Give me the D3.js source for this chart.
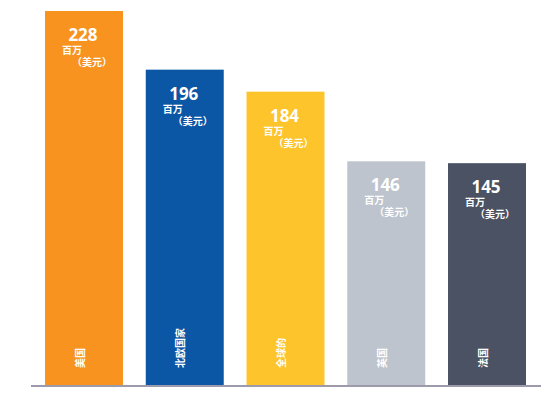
<!DOCTYPE html>
<html lang="zh">
<head>
  <meta charset="UTF-8">
  <title>Bar chart</title>
  <script src="https://d3js.org/d3.v7.min.js"></script>
  <style>
    body { margin: 0; background: #fff; }
    .val { font-family: "Open Sans", "Noto Sans", sans-serif; font-weight: 700; fill: #fff; }
    .cjk { font-family: "Noto Sans CJK SC", sans-serif; font-weight: 700; fill: #fff; }
  </style>
</head>
<body>
<div id="chart"></div>
<script>
  // data
  const categories = ["美国", "北欧国家", "全球的", "英国", "法国"];
  const values = [228, 196, 184, 146, 145];
  const colors = ["#f7931e", "#0b56a5", "#fec42c", "#bdc4cd", "#4a5263"];
  const unitLine1 = "百万";
  const unitLine2 = "（美元）";

  const width = 560, height = 397;
  const baseY = 385;

  const svg = d3.select('#chart')
    .append('svg')
    .attr('width', width)
    .attr('height', height);

  const x = d3.scaleBand()
    .domain(categories)
    .range([45, 526])
    .paddingInner(0.226)
    .paddingOuter(0);

  // bars don't start at zero in the original
  const y = d3.scaleLinear()
    .domain([24, 228])
    .range([baseY, 11]);

  const data = categories.map((c, i) => ({ cat: c, value: values[i], color: colors[i] }));

  const bars = svg.selectAll('g.bar')
    .data(data)
    .enter().append('g')
    .attr('class', 'bar');

  bars.append('rect')
    .attr('x', d => x(d.cat))
    .attr('y', d => y(d.value))
    .attr('width', x.bandwidth())
    .attr('height', d => baseY - y(d.value))
    .attr('fill', d => d.color);

  // value number
  bars.append('text')
    .attr('class', 'val')
    .attr('x', d => x(d.cat) + x.bandwidth() / 2 - 1)
    .attr('y', d => y(d.value) + 30)
    .attr('text-anchor', 'middle')
    .style('font-size', '17px')
    .text(d => d.value);

  bars.append('text')
    .attr('class', 'cjk')
    .attr('x', d => x(d.cat) + 17)
    .attr('y', d => y(d.value) + 43)
    .style('font-size', '10px')
    .text(unitLine1);

  bars.append('text')
    .attr('class', 'cjk')
    .attr('x', d => x(d.cat) + 27)
    .attr('y', d => y(d.value) + 55)
    .style('font-size', '10px')
    .text(unitLine2);

  // rotated category labels
  bars.append('text')
    .attr('class', 'cjk')
    .attr('transform', d => `translate(${x(d.cat) + x.bandwidth() / 2 - 3},${baseY - 17}) rotate(-90)`)
    .attr('dominant-baseline', 'middle')
    .style('font-size', '10px')
    .text(d => d.cat);

  // baseline
  svg.append('line')
    .attr('x1', x.range()[0] - 14)
    .attr('x2', x.range()[1] + 15)
    .attr('y1', baseY + 1)
    .attr('y2', baseY + 1)
    .attr('stroke', '#9d9bab')
    .attr('stroke-width', 2);
</script>
</body>
</html>
